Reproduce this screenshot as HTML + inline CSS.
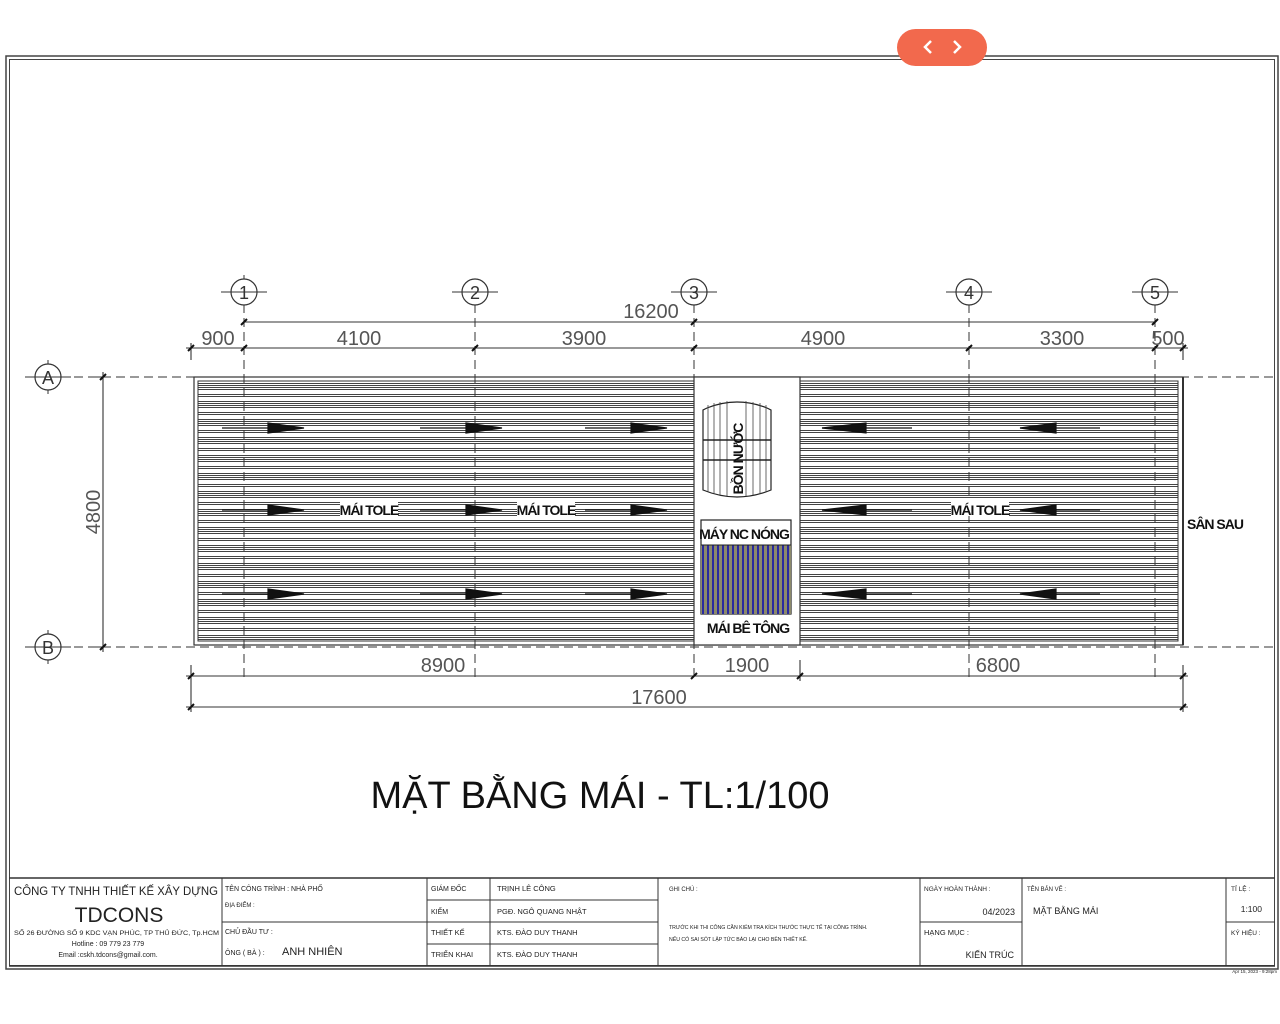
<!DOCTYPE html>
<html><head><meta charset="utf-8"><style>
html,body{margin:0;padding:0;background:#fff}
svg{display:block}
text{font-family:"Liberation Sans",sans-serif}
</style></head><body>
<svg width="1280" height="1024" viewBox="0 0 1280 1024" xmlns="http://www.w3.org/2000/svg">
<defs>
<pattern id="tole" patternUnits="userSpaceOnUse" x="0" y="383" width="20" height="18">
<rect width="20" height="18" fill="#fff"/>
<g stroke="#444" stroke-width="1">
<line x1="0" y1="0.5" x2="20" y2="0.5"/><line x1="0" y1="2.5" x2="20" y2="2.5"/>
<line x1="0" y1="4.5" x2="20" y2="4.5"/><line x1="0" y1="6.5" x2="20" y2="6.5"/>
<line x1="0" y1="11.5" x2="20" y2="11.5"/><line x1="0" y1="13.5" x2="20" y2="13.5"/>
</g>
</pattern>
</defs>
<rect width="1280" height="1024" fill="#fff"/>
<rect x="6" y="56" width="1272" height="913" fill="none" stroke="#444" stroke-width="1.5"/>
<rect x="9.5" y="59.5" width="1265" height="906" fill="none" stroke="#444" stroke-width="1"/>
<rect x="897" y="29" width="90" height="37" rx="18.5" fill="#f2694d"/>
<path d="M931 41 L925 47 L931 53" stroke="#fff" stroke-width="2.5" fill="none"/>
<path d="M954 41 L960 47 L954 53" stroke="#fff" stroke-width="2.5" fill="none"/>

<rect x="194" y="377" width="989" height="268" fill="none" stroke="#333" stroke-width="1.2"/>
<rect x="198" y="383" width="496" height="258" fill="url(#tole)"/>
<rect x="800" y="383" width="378" height="258" fill="url(#tole)"/>
<rect x="198" y="381" width="980" height="260" fill="none" stroke="#333" stroke-width="1"/>
<rect x="694" y="377" width="106" height="268" fill="#fff" stroke="#333" stroke-width="1.2"/>
<line x1="1183" y1="377" x2="1183" y2="645" stroke="#333" stroke-width="2"/>

<g stroke="#333" stroke-width="1" stroke-dasharray="9,5">
<line x1="244" y1="304" x2="244" y2="680"/>
<line x1="475" y1="304" x2="475" y2="680"/>
<line x1="694" y1="304" x2="694" y2="680"/>
<line x1="969" y1="304" x2="969" y2="680"/>
<line x1="1155" y1="304" x2="1155" y2="680"/>
<line x1="60" y1="377" x2="1275" y2="377"/>
<line x1="60" y1="647" x2="1275" y2="647"/>
</g>
<g stroke="#333" stroke-width="1.2" fill="#fff">
<circle cx="244" cy="292" r="13"/><circle cx="475" cy="292" r="13"/><circle cx="694" cy="292" r="13"/><circle cx="969" cy="292" r="13"/><circle cx="1155" cy="292" r="13"/>
<circle cx="48" cy="377" r="13"/><circle cx="48" cy="647" r="13"/>
</g>
<g stroke="#333" stroke-width="1">
<line x1="221" y1="292" x2="267" y2="292"/><line x1="244" y1="275" x2="244" y2="279"/>
<line x1="452" y1="292" x2="498" y2="292"/><line x1="671" y1="292" x2="717" y2="292"/>
<line x1="946" y1="292" x2="992" y2="292"/><line x1="1132" y1="292" x2="1178" y2="292"/>
<line x1="25" y1="377" x2="71" y2="377"/><line x1="25" y1="647" x2="71" y2="647"/>
<line x1="48" y1="360" x2="48" y2="364"/><line x1="48" y1="390" x2="48" y2="394"/>
<line x1="48" y1="630" x2="48" y2="634"/><line x1="48" y1="660" x2="48" y2="664"/>
</g>
<g font-size="18" fill="#333" text-anchor="middle">
<text x="244" y="299">1</text><text x="475" y="299">2</text><text x="694" y="299">3</text><text x="969" y="299">4</text><text x="1155" y="299">5</text>
<text x="48" y="384">A</text><text x="48" y="654">B</text>
</g>

<g stroke="#333" stroke-width="1.1">
<line x1="244" y1="322" x2="1155" y2="322"/>
<line x1="186" y1="348" x2="1188" y2="348"/>
<line x1="191" y1="343" x2="191" y2="360"/><line x1="1183" y1="343" x2="1183" y2="360"/>
<line x1="186" y1="676" x2="1188" y2="676"/>
<line x1="186" y1="707" x2="1188" y2="707"/>
<line x1="191" y1="665" x2="191" y2="712"/><line x1="1183" y1="665" x2="1183" y2="712"/>
<line x1="800" y1="660" x2="800" y2="681"/>
<line x1="103" y1="372" x2="103" y2="652"/>
<line x1="90" y1="377" x2="110" y2="377"/><line x1="90" y1="647" x2="110" y2="647"/>
</g>
<g stroke="#111" stroke-width="2">
<path d="M241 325l6-6M241 351l6-6M472 351l6-6M691 351l6-6M966 351l6-6M1152 351l6-6M1152 325l6-6M188 351l6-6M1180 351l6-6M691 325l6-6"/>
<path d="M188 679l6-6M691 679l6-6M797 679l6-6M1180 679l6-6M188 710l6-6M1180 710l6-6M100 380l6-6M100 650l6-6"/>
</g>
<g font-size="20" fill="#555" text-anchor="middle">
<text x="651" y="318">16200</text>
<text x="218" y="345">900</text><text x="359" y="345">4100</text><text x="584" y="345">3900</text><text x="823" y="345">4900</text><text x="1062" y="345">3300</text><text x="1168" y="345">500</text>
<text x="443" y="672">8900</text><text x="747" y="672">1900</text><text x="998" y="672">6800</text>
<text x="659" y="704">17600</text>
<text transform="translate(100,512) rotate(-90)">4800</text>
</g>

<g stroke="#111" stroke-width="1.2" fill="#111">
<line x1="222" y1="428" x2="300" y2="428"/><path d="M268 423L304 428L268 433Z"/>
<line x1="420" y1="428" x2="498" y2="428"/><path d="M466 423L502 428L466 433Z"/>
<line x1="585" y1="428" x2="663" y2="428"/><path d="M631 423L667 428L631 433Z"/>
<line x1="222" y1="510" x2="300" y2="510"/><path d="M268 505L304 510L268 515Z"/>
<line x1="420" y1="510" x2="498" y2="510"/><path d="M466 505L502 510L466 515Z"/>
<line x1="585" y1="510" x2="663" y2="510"/><path d="M631 505L667 510L631 515Z"/>
<line x1="222" y1="594" x2="300" y2="594"/><path d="M268 589L304 594L268 599Z"/>
<line x1="420" y1="594" x2="498" y2="594"/><path d="M466 589L502 594L466 599Z"/>
<line x1="585" y1="594" x2="663" y2="594"/><path d="M631 589L667 594L631 599Z"/>
<line x1="822" y1="428" x2="912" y2="428"/><path d="M866 423L822 428L866 433Z"/>
<line x1="1020" y1="428" x2="1100" y2="428"/><path d="M1056 423L1020 428L1056 433Z"/>
<line x1="822" y1="510" x2="912" y2="510"/><path d="M866 505L822 510L866 515Z"/>
<line x1="1020" y1="510" x2="1100" y2="510"/><path d="M1056 505L1020 510L1056 515Z"/>
<line x1="822" y1="594" x2="912" y2="594"/><path d="M866 589L822 594L866 599Z"/>
<line x1="1020" y1="594" x2="1100" y2="594"/><path d="M1056 589L1020 594L1056 599Z"/>
</g>
<g font-size="14" font-weight="bold" fill="#111" text-anchor="middle" letter-spacing="-1">
<rect x="340" y="500" width="58" height="16" fill="#fff"/><text x="369" y="515">MÁI TOLE</text>
<rect x="517" y="500" width="58" height="16" fill="#fff"/><text x="546" y="515">MÁI TOLE</text>
<rect x="951" y="500" width="58" height="16" fill="#fff"/><text x="980" y="515">MÁI TOLE</text>
<text x="1215" y="529">SÂN SAU</text>
</g>

<path d="M707 408 Q737 396 767 408 L771 410 L771 490 Q737 504 703 490 L703 410 Z" fill="#fff" stroke="#222" stroke-width="1.2"/>
<g stroke="#444" stroke-width="0.8">
<line x1="708" y1="405" x2="708" y2="492"/><line x1="714" y1="403" x2="714" y2="494"/><line x1="720" y1="402" x2="720" y2="495"/><line x1="727" y1="401" x2="727" y2="496"/>
<line x1="746" y1="401" x2="746" y2="496"/><line x1="753" y1="402" x2="753" y2="495"/><line x1="760" y1="403" x2="760" y2="494"/><line x1="766" y1="405" x2="766" y2="492"/>
</g>
<line x1="703" y1="440" x2="771" y2="440" stroke="#222" stroke-width="1.5"/>
<line x1="703" y1="460" x2="771" y2="460" stroke="#222" stroke-width="1.5"/>
<text transform="translate(743,459) rotate(-90)" font-size="14" font-weight="bold" fill="#111" text-anchor="middle" letter-spacing="-1">BỒN NƯỚC</text>
<rect x="701" y="520" width="90" height="94" fill="#fff" stroke="#222" stroke-width="1.2"/>
<rect x="701" y="545" width="90" height="69" fill="#8c8a6a"/>
<g stroke="#2a2aa0" stroke-width="2">
<path d="M703 545v69M708 545v69M713 545v69M718 545v69M723 545v69M728 545v69M733 545v69M738 545v69M743 545v69M748 545v69M753 545v69M758 545v69M763 545v69M768 545v69M773 545v69M778 545v69M783 545v69M788 545v69"/>
</g>
<line x1="701" y1="545" x2="791" y2="545" stroke="#222" stroke-width="1"/>
<text x="744" y="539" font-size="14" font-weight="bold" fill="#111" text-anchor="middle" letter-spacing="-1">MÁY NC NÓNG</text>
<text x="748" y="633" font-size="14" font-weight="bold" fill="#111" text-anchor="middle" letter-spacing="-1">MÁI BÊ TÔNG</text>

<text x="600" y="808" font-size="38" fill="#111" text-anchor="middle">MẶT BẰNG MÁI - TL:1/100</text>

<g stroke="#333" stroke-width="1" fill="none">
<line x1="9" y1="878" x2="1275" y2="878" stroke-width="1.5"/>
<line x1="9" y1="966" x2="1275" y2="966" stroke-width="1.5"/>
<line x1="222" y1="878" x2="222" y2="966"/><line x1="427" y1="878" x2="427" y2="966"/>
<line x1="490" y1="878" x2="490" y2="966"/><line x1="658" y1="878" x2="658" y2="966"/>
<line x1="920" y1="878" x2="920" y2="966"/><line x1="1022" y1="878" x2="1022" y2="966"/>
<line x1="1226" y1="878" x2="1226" y2="966"/>
<line x1="222" y1="922" x2="427" y2="922"/>
<line x1="427" y1="900" x2="658" y2="900"/><line x1="427" y1="922" x2="658" y2="922"/><line x1="427" y1="944" x2="658" y2="944"/>
<line x1="920" y1="922" x2="1022" y2="922"/><line x1="1226" y1="922" x2="1275" y2="922"/>
</g>
<g fill="#222">
<text x="14" y="895" font-size="12" textLength="204" lengthAdjust="spacingAndGlyphs">CÔNG TY TNHH THIẾT KẾ XÂY DỰNG</text>
<text x="119" y="922" font-size="21" text-anchor="middle">TDCONS</text>
<text x="14" y="935" font-size="6.5" textLength="205" lengthAdjust="spacingAndGlyphs">SỐ 26 ĐƯỜNG SỐ 9 KDC VẠN PHÚC, TP THỦ ĐỨC, Tp.HCM</text>
<text x="108" y="946" font-size="7" text-anchor="middle">Hotline :  09 779 23 779</text>
<text x="108" y="957" font-size="7" text-anchor="middle">Email :cskh.tdcons@gmail.com.</text>
<text x="225" y="891" font-size="7">TÊN CÔNG TRÌNH : NHÀ PHỐ</text>
<text x="225" y="907" font-size="6">ĐỊA ĐIỂM :</text>
<text x="225" y="934" font-size="7">CHỦ ĐẦU TƯ :</text>
<text x="225" y="955" font-size="7">ÔNG ( BÀ ) :</text>
<text x="282" y="955" font-size="11">ANH NHIÊN</text>
<text x="431" y="891" font-size="7">GIÁM ĐỐC</text><text x="497" y="891" font-size="7.5">TRỊNH LÊ CÔNG</text>
<text x="431" y="914" font-size="7">KIỂM</text><text x="497" y="914" font-size="7.5">PGĐ. NGÔ QUANG NHẬT</text>
<text x="431" y="935" font-size="7.5">THIẾT KẾ</text><text x="497" y="935" font-size="7.5">KTS. ĐÀO DUY THANH</text>
<text x="431" y="957" font-size="7.5">TRIỂN KHAI</text><text x="497" y="957" font-size="7.5">KTS. ĐÀO DUY THANH</text>
<text x="669" y="891" font-size="6">GHI CHÚ :</text>
<text x="669" y="929" font-size="5.2">TRƯỚC KHI THI CÔNG CẦN KIỂM TRA KÍCH THƯỚC THỰC TẾ TẠI CÔNG TRÌNH.</text>
<text x="669" y="941" font-size="5.2">NẾU CÓ SAI SÓT LẬP TỨC BÁO LẠI CHO BÊN THIẾT KẾ.</text>
<text x="924" y="891" font-size="6.5">NGÀY HOÀN THÀNH :</text>
<text x="1015" y="915" font-size="9" text-anchor="end">04/2023</text>
<text x="924" y="935" font-size="7.5">HẠNG MỤC :</text>
<text x="1014" y="958" font-size="9" text-anchor="end">KIẾN TRÚC</text>
<text x="1027" y="891" font-size="6">TÊN BẢN VẼ :</text>
<text x="1033" y="914" font-size="9">MẶT BẰNG MÁI</text>
<text x="1231" y="891" font-size="6.5">TỈ LỆ :</text>
<text x="1262" y="912" font-size="8.5" text-anchor="end">1:100</text>
<text x="1231" y="935" font-size="6.5">KÝ HIỆU :</text>
<text x="1277" y="973" font-size="4.5" text-anchor="end">Apr 15, 2023 - 9:28pm</text>
</g>
</svg>
</body></html>
